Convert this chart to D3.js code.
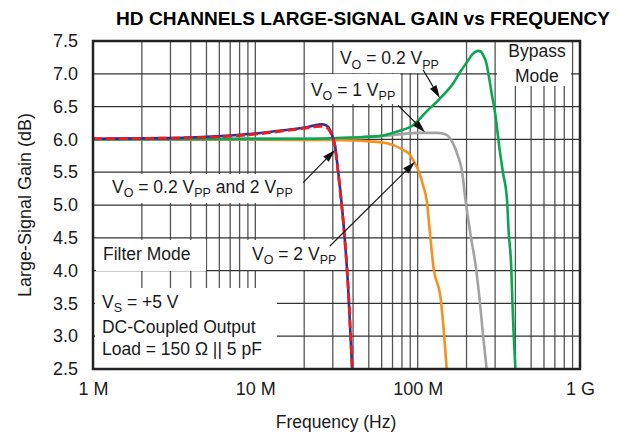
<!DOCTYPE html>
<html><head><meta charset="utf-8">
<script src="https://cdn.jsdelivr.net/npm/d3@7"></script>
<style>body{margin:0;background:#fff}svg{display:block;font-family:"Liberation Sans",Arial,Helvetica,sans-serif}</style>
</head><body>
<svg id="c" width="621" height="433"></svg>
<script>
// ---------- data ----------
const titleText = "HD CHANNELS LARGE-SIGNAL GAIN vs FREQUENCY";
const xTitle = "Frequency (Hz)";
const yTitle = "Large-Signal Gain (dB)";
const xTickValues = [1e6, 1e7, 1e8, 1e9];
const xTickLabels = ["1 M", "10 M", "100 M", "1 G"];
const yTickValues = [2.5, 3, 3.5, 4, 4.5, 5, 5.5, 6, 6.5, 7, 7.5];

// Filter mode, VO = 0.2 VPP (blue, solid)
const blueFreqMHz = [1, 3, 5, 10, 15, 20, 23, 25.5, 27.5, 29, 30, 31, 32, 33.2, 35.2, 37.2, 39.5];
const blueGain    = [6.01, 6.02, 6.04, 6.09, 6.14, 6.18, 6.21, 6.23, 6.21, 6.13, 6.03, 5.9, 5.62, 5.27, 4.62, 3.8, 2.5];
// Filter mode, VO = 2 VPP (red, dashed)
const redFreqMHz  = [1, 3, 5, 10, 15, 20, 23, 25.5, 27.5, 29, 30, 31, 32, 33.2, 35.2, 37.2, 39.5];
const redGain     = [6.01, 6.02, 6.03, 6.08, 6.13, 6.17, 6.19, 6.2, 6.18, 6.11, 6.02, 5.88, 5.6, 5.25, 4.6, 3.8, 2.5];
// Bypass mode, VO = 0.2 VPP (green)
const greenFreqMHz = [1, 20, 40, 58, 75, 94, 114, 138, 166, 183, 200, 218, 235, 245, 253, 265, 275, 288, 300, 320, 335, 355, 364, 377, 383, 390, 400];
const greenGain    = [6.0, 6.01, 6.03, 6.05, 6.12, 6.22, 6.43, 6.63, 6.86, 7.03, 7.17, 7.3, 7.35, 7.34, 7.29, 7.16, 6.95, 6.65, 6.4, 5.84, 5.5, 5.08, 4.57, 4.06, 3.55, 3.05, 2.5];
// Bypass mode, VO = 1 VPP (gray)
const grayFreqMHz = [1, 20, 40, 60, 80, 100, 130, 148, 158, 168, 177, 188, 196, 211, 228, 241, 252, 266];
const grayGain    = [6.0, 6.01, 6.03, 6.05, 6.08, 6.1, 6.1, 6.08, 6.02, 5.9, 5.75, 5.5, 5.12, 4.57, 4.06, 3.55, 3.05, 2.5];
// Bypass mode, VO = 2 VPP (orange)
const orangeFreqMHz = [1, 10, 30, 50, 65, 80, 90, 96, 102, 108, 114, 119, 125, 139, 151];
const orangeGain    = [6.0, 5.995, 5.99, 5.97, 5.94, 5.85, 5.76, 5.64, 5.5, 5.3, 5.05, 4.57, 4.06, 3.55, 2.5];

// ---------- layout ----------
const svg = d3.select("#c");
const L = 93, R = 580, T = 41, B = 369;
const x = d3.scaleLog().domain([1e6, 1e9]).range([L, R]);
const y = d3.scaleLinear().domain([2.5, 7.5]).range([B, T]);
const fx = mhz => x(mhz * 1e6);

// title
svg.append("text").attr("x", 363).attr("y", 25).attr("text-anchor", "middle")
  .attr("font-weight", "bold").attr("font-size", 18)
  .attr("textLength", 494).attr("lengthAdjust", "spacingAndGlyphs")
  .text(titleText);

// grid
const grid = svg.append("g");
grid.selectAll("line.v").data(x.ticks()).join("line")
  .attr("x1", d => x(d)).attr("x2", d => x(d)).attr("y1", T).attr("y2", B)
  .attr("stroke", "#555").attr("stroke-width", 1.3);
grid.selectAll("line.h").data(yTickValues).join("line")
  .attr("x1", L).attr("x2", R).attr("y1", d => y(d)).attr("y2", d => y(d))
  .attr("stroke", "#333").attr("stroke-width", 1.25);

// annotation boxes (in data units: MHz / dB)
const boxes = [
  {f0: 30.5, f1: 196, g0: 7.485, g1: 7.01},
  {f0: 20.2, f1: 77.9, g0: 6.997, g1: 6.54},
  {f0: 308, f1: 880, g0: 7.5, g1: 6.814},
  {f0: 1.169, f1: 19.66, g0: 5.473, g1: 5.03},
  {f0: 1.043, f1: 4.97, g0: 4.467, g1: 3.994},
  {f0: 8.76, f1: 36.2, g0: 4.467, g1: 4.009},
  {f0: 1.029, f1: 13.6, g0: 3.735, g1: 2.515}
];
svg.append("g").selectAll("rect").data(boxes).join("rect")
  .attr("x", d => fx(d.f0)).attr("y", d => y(d.g0))
  .attr("width", d => fx(d.f1) - fx(d.f0)).attr("height", d => y(d.g1) - y(d.g0))
  .attr("fill", "#fff");

// curves
const line = d3.line().x(d => fx(d[0])).y(d => y(d[1])).curve(d3.curveMonotoneX);
const series = [
  {f: orangeFreqMHz, g: orangeGain, color: "#f7901e", w: 2.6, dash: null},
  {f: grayFreqMHz, g: grayGain, color: "#a3a3a3", w: 2.6, dash: null},
  {f: greenFreqMHz, g: greenGain, color: "#0aa650", w: 2.6, dash: null},
  {f: blueFreqMHz, g: blueGain, color: "#2e3192", w: 2.6, dash: null},
  {f: redFreqMHz, g: redGain, color: "#ed1c24", w: 2.8, dash: "9,4"}
];
svg.append("g").selectAll("path").data(series).join("path")
  .attr("d", s => line(s.f.map((f, i) => [f, s.g[i]])))
  .attr("fill", "none").attr("stroke", s => s.color).attr("stroke-width", s => s.w)
  .attr("stroke-dasharray", s => s.dash).attr("stroke-linejoin", "round");

// annotation texts
const texts = [
  {f: 33.2, g: 7.149, parts: [["V"], ["O", 1], [" = 0.2 V"], ["PP", 1]]},
  {f: 22.0, g: 6.662, parts: [["V"], ["O", 1], [" = 1 V"], ["PP", 1]]},
  {f: 1.309, g: 5.183, parts: [["V"], ["O", 1], [" = 0.2 V"], ["PP", 1], [" and 2 V"], ["PP", 1]]},
  {f: 1.152, g: 4.162, parts: [["Filter Mode"]]},
  {f: 9.54, g: 4.162, parts: [["V"], ["O", 1], [" = 2 V"], ["PP", 1]]},
  {f: 1.136, g: 3.43, parts: [["V"], ["S", 1], [" = +5 V"]]},
  {f: 1.136, g: 3.049, parts: [["DC-Coupled Output"]]},
  {f: 1.136, g: 2.713, parts: [["Load = 150 \u03A9 || 5 pF"]]}
];
texts.forEach(t => {
  const el = svg.append("text").attr("x", fx(t.f)).attr("y", y(t.g)).attr("font-size", 17.5).attr("fill", "#1a1a1a");
  let shifted = false;
  t.parts.forEach(p => {
    const sp = el.append("tspan").text(p[0]);
    if (p[1] && !shifted) { sp.attr("dy", 4.5).attr("font-size", 12.5); shifted = true; }
    else if (p[1]) { sp.attr("font-size", 12.5); }
    else if (shifted) { sp.attr("dy", -4.5); shifted = false; }
  });
});
// Bypass Mode (centered)
[["Bypass", 7.256], ["Mode", 6.875]].forEach(d => {
  svg.append("text").attr("x", fx(543)).attr("y", y(d[1])).attr("text-anchor", "middle")
    .attr("font-size", 17.5).attr("fill", "#1a1a1a").text(d[0]);
});

// arrows (data units)
const arrows = [
  {f0: 108, g0: 7.06, f1: 137, g1: 6.63},
  {f0: 75.7, g0: 6.52, f1: 111, g1: 6.11},
  {f0: 19.7, g0: 5.34, f1: 31, g1: 5.84},
  {f0: 28.8, g0: 4.375, f1: 96.4, g1: 5.66}
];
const ag = svg.append("g");
arrows.forEach(a => {
  const x0 = fx(a.f0), y0 = y(a.g0), x1 = fx(a.f1), y1 = y(a.g1);
  const ang = Math.atan2(y1 - y0, x1 - x0), len = 13, hw = 3.8;
  const bx = x1 - len * Math.cos(ang), by = y1 - len * Math.sin(ang);
  ag.append("line").attr("x1", x0).attr("y1", y0).attr("x2", bx).attr("y2", by)
    .attr("stroke", "#111").attr("stroke-width", 1.1);
  const px = -Math.sin(ang) * hw, py = Math.cos(ang) * hw;
  ag.append("path").attr("d", `M${x1},${y1}L${bx + px},${by + py}L${bx - px},${by - py}Z`).attr("fill", "#111");
});

// frame
svg.append("rect").attr("x", L).attr("y", T).attr("width", R - L).attr("height", B - T)
  .attr("fill", "none").attr("stroke", "#222").attr("stroke-width", 2.5);

// axes
const xAxis = svg.append("g").attr("transform", `translate(0,${B})`)
  .call(d3.axisBottom(x).tickValues(xTickValues).tickFormat((d, i) => xTickLabels[i]).tickSize(0).tickPadding(13));
const yAxis = svg.append("g").attr("transform", `translate(${L},0)`)
  .call(d3.axisLeft(y).tickValues(yTickValues).tickFormat(d3.format(".1f")).tickSize(0).tickPadding(15));
[xAxis, yAxis].forEach(a => {
  a.select(".domain").remove();
  a.selectAll("text").attr("font-size", 18).attr("fill", "#1a1a1a").attr("font-family", '"Liberation Sans",Arial,sans-serif');
});

svg.append("text").attr("x", 336).attr("y", 428).attr("text-anchor", "middle")
  .attr("font-size", 17.5).attr("fill", "#1a1a1a").text(xTitle);
svg.append("text").attr("transform", `translate(31,${(T + B) / 2}) rotate(-90)`).attr("text-anchor", "middle")
  .attr("font-size", 18).attr("fill", "#1a1a1a").text(yTitle);
</script>
</body></html>
